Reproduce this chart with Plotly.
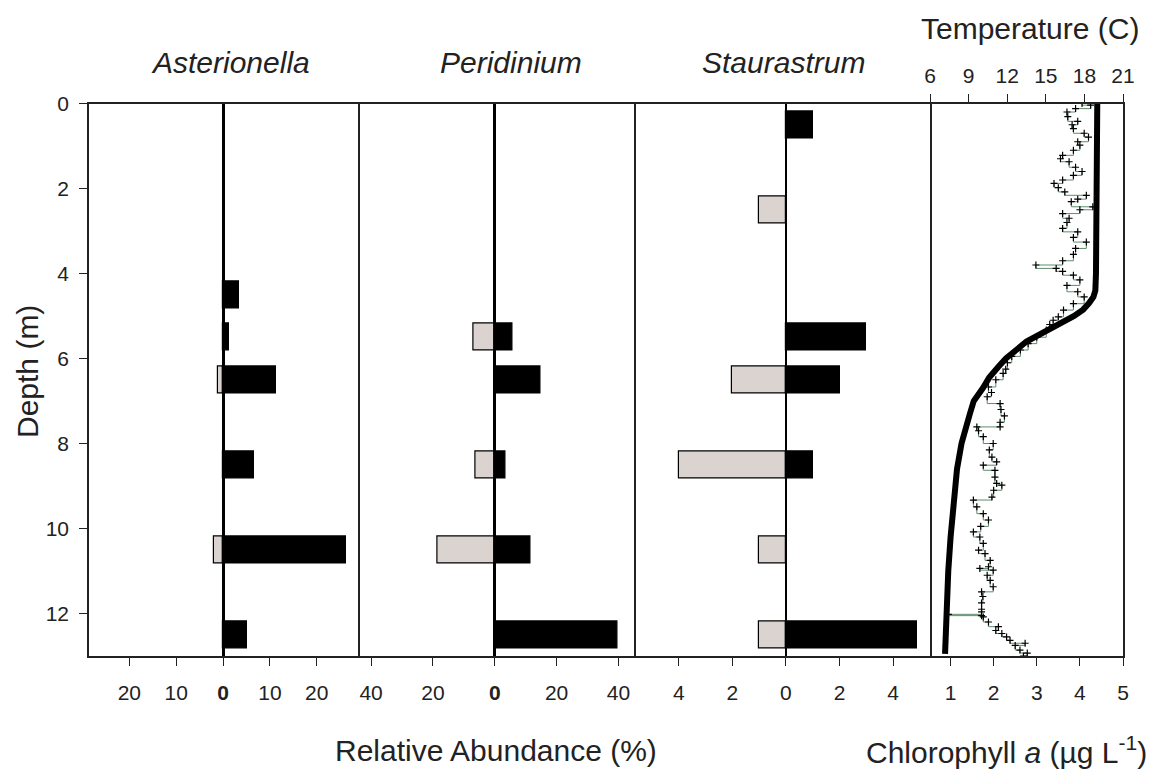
import plotly.graph_objects as go

# ---------------- data ----------------
# Asterionella (relative abundance, %)
ast_black_depth = [4.5, 5.5, 6.5, 8.5, 10.5, 12.5]
ast_black_val = [3.5, 1.2, 11.4, 6.6, 26.2, 5.2]
ast_gray_depth = [6.5, 10.5]
ast_gray_val = [-1.1, -1.9]

# Peridinium
per_black_depth = [5.5, 6.5, 8.5, 10.5, 12.5]
per_black_val = [5.6, 14.8, 3.5, 11.5, 39.7]
per_gray_depth = [5.5, 8.5, 10.5]
per_gray_val = [-6.8, -6.2, -18.6]

# Staurastrum
sta_black_depth = [0.5, 5.5, 6.5, 8.5, 12.5]
sta_black_val = [1.0, 3.0, 2.0, 1.0, 4.9]
sta_gray_depth = [2.5, 6.5, 8.5, 10.5, 12.5]
sta_gray_val = [-1.0, -2.0, -4.0, -1.0, -1.0]

# Temperature profile (C)
temp_depth = [0, 0.5, 1, 1.5, 2, 2.5, 3, 3.5, 4, 4.4, 4.55, 4.7, 4.85, 5.0, 5.15,
              5.3, 5.45, 5.6, 5.8, 6.0, 6.2, 6.45, 6.7, 7.0, 7.3, 7.6, 8.0, 8.6,
              9.4, 10.2, 11.0, 11.8, 12.5, 12.95]
temp_val = [19.0, 19.0, 18.95, 18.95, 18.95, 18.9, 18.9, 18.9, 18.9, 18.85, 18.7,
            18.35, 17.9, 17.2, 16.3, 15.3, 14.3, 13.5, 12.7, 11.9, 11.3, 10.6, 10.1,
            9.4, 9.1, 8.8, 8.45, 8.1, 7.8, 7.6, 7.42, 7.3, 7.22, 7.17]

# Chlorophyll a profile (ug/L)
chl_depth = [0.0, 0.04, 0.12, 0.2, 0.31, 0.42, 0.5, 0.59, 0.7, 0.79, 0.9, 0.98, 1.1,
             1.22, 1.3, 1.37, 1.5, 1.6, 1.69, 1.8, 1.88, 1.98, 2.08, 2.16, 2.25, 2.31,
             2.43, 2.5, 2.59, 2.7, 2.8, 2.94, 3.02, 3.15, 3.26, 3.41, 3.55, 3.7, 3.8,
             3.88, 3.95, 4.04, 4.15, 4.28, 4.43, 4.55, 4.71, 4.86, 5.02, 5.1, 5.2,
             5.33, 5.5, 5.65, 5.8, 5.95, 6.1, 6.25, 6.35, 6.5, 6.67, 6.8, 6.9, 7.06,
             7.2, 7.35, 7.5, 7.61, 7.61, 7.7, 7.84, 8.0, 8.15, 8.32, 8.43, 8.51, 8.63,
             8.79, 8.94, 8.98, 9.1, 9.26, 9.33, 9.49, 9.65, 9.8, 9.95, 10.08, 10.2,
             10.35, 10.51, 10.59, 10.75, 10.9, 10.94, 10.98, 11.1, 11.22, 11.37, 11.49,
             11.6, 11.75, 11.9, 11.96, 12.02, 12.05, 12.08, 12.2, 12.31, 12.4, 12.47,
             12.55, 12.63, 12.7, 12.75, 12.86, 12.93, 13.0]
chl_val = [4.05, 4.25, 3.9, 3.7, 3.72, 3.95, 3.82, 3.85, 4.1, 4.2, 3.95, 4.0, 3.85,
           3.6, 3.55, 3.75, 3.9, 4.05, 3.85, 3.6, 3.4, 3.5, 3.65, 4.15, 3.95, 3.8,
           4.3, 4.0, 3.6, 3.75, 3.7, 3.6, 3.95, 3.85, 4.15, 3.9, 3.85, 3.6, 2.98,
           3.45, 3.6, 3.85, 4.0, 3.7, 3.95, 4.1, 3.85, 3.62, 3.5, 3.38, 3.3,
           3.22, 3.0, 2.8, 2.62, 2.42, 2.32, 2.28, 2.22, 2.05, 1.88, 1.95, 1.85, 2.15,
           2.17, 2.25, 2.15, 2.15, 1.61, 1.65, 1.76, 1.99, 1.9, 1.96, 2.07, 1.76, 2.03,
           2.03, 2.07, 2.19, 2.0, 1.96, 1.53, 1.61, 1.76, 1.88, 1.7, 1.53, 1.68,
           1.76, 1.65, 1.8, 1.92, 1.88, 1.68, 1.99, 1.85, 1.92, 1.99, 1.72,
           1.75, 1.72, 1.72, 1.72, 0.95, 1.72, 1.76, 1.88, 2.11, 2.05, 2.19,
           2.3, 2.38, 2.73, 2.5, 2.61, 2.78, 2.69]

depth_ticks = [0, 2, 4, 6, 8, 10, 12]
ast_ticks = [-20, -10, 0, 10, 20]
ast_ticktext = ["20", "10", "<b>0</b>", "10", "20"]
per_ticks = [-40, -20, 0, 20, 40]
per_ticktext = ["40", "20", "<b>0</b>", "20", "40"]
sta_ticks = [-4, -2, 0, 2, 4]
sta_ticktext = ["4", "2", "0", "2", "4"]
chl_ticks = [1, 2, 3, 4, 5]
temp_ticks = [6, 9, 12, 15, 18, 21]

# ---------------- styling ----------------
# the page body has an 8px default margin; lay out in window pixels
OFF = 8
WIN_W, WIN_H = 1157, 774
W, H = WIN_W - OFF, WIN_H - OFF
FONT = "Liberation Sans, Arial, sans-serif"
GRAY = "#dad3d0"
BAR_W = 0.64
LINE = "#222"

def px(x):
    return (x - OFF) / W

def py(y):
    return 1 - (y - OFF) / H

top, bottom = 103.5, 656
edges = [89, 357.5, 636, 930, 1123]
ydom = [py(bottom), py(top)]

fig = go.Figure()

def add_bars(gd, gv, bd, bv, xa, ya):
    fig.add_trace(go.Bar(y=gd, x=gv, orientation="h", width=BAR_W,
                         marker=dict(color=GRAY, line=dict(color="black", width=1.2)),
                         xaxis=xa, yaxis=ya, showlegend=False))
    fig.add_trace(go.Bar(y=bd, x=bv, orientation="h", width=BAR_W,
                         marker=dict(color="black", line=dict(color="black", width=1.2)),
                         xaxis=xa, yaxis=ya, showlegend=False))

add_bars(ast_gray_depth, ast_gray_val, ast_black_depth, ast_black_val, "x", "y")
add_bars(per_gray_depth, per_gray_val, per_black_depth, per_black_val, "x2", "y2")
add_bars(sta_gray_depth, sta_gray_val, sta_black_depth, sta_black_val, "x3", "y3")

fig.add_trace(go.Scatter(x=chl_val, y=chl_depth, mode="lines+markers",
                         line=dict(color="#5e8c6c", width=1, shape="vh"),
                         marker=dict(symbol="cross-thin", size=5,
                                     line=dict(color="black", width=1.2)),
                         xaxis="x4", yaxis="y4", showlegend=False))
fig.add_trace(go.Scatter(x=temp_val, y=temp_depth, mode="lines",
                         line=dict(color="black", width=6),
                         xaxis="x5", yaxis="y4", showlegend=False))

tickfont = dict(family=FONT, size=21, color=LINE)

def xaxis(i, rng, tv, tt, zw):
    return dict(domain=[px(edges[i]), px(edges[i + 1])], range=rng,
                anchor="y" if i == 0 else f"y{i+1}",
                showline=True, mirror=True, linecolor=LINE, linewidth=1.5,
                ticks="outside", ticklen=8, tickwidth=1.3, tickcolor=LINE,
                tickvals=tv, ticktext=tt, tickfont=tickfont, ticklabelstandoff=9,
                showgrid=False, zeroline=True, zerolinecolor="black", zerolinewidth=zw,
                automargin=False, fixedrange=True)

base_y = dict(domain=ydom, range=[13, 0], linecolor=LINE, linewidth=1.5,
              showgrid=False, zeroline=False, automargin=False, fixedrange=True)

fig.update_layout(
    width=W, height=H, autosize=False,
    margin=dict(l=0, r=0, t=0, b=0),
    paper_bgcolor="white", plot_bgcolor="white",
    barmode="overlay", bargap=0,
    font=dict(family=FONT, color=LINE),
    xaxis=xaxis(0, [-28.6, 28.7], ast_ticks, ast_ticktext, 3),
    xaxis2=xaxis(1, [-44.4, 45.7], per_ticks, per_ticktext, 3),
    xaxis3=xaxis(2, [-5.6, 5.38], sta_ticks, sta_ticktext, 1.5),
    xaxis4=dict(domain=[px(edges[3]), px(edges[4])], range=[0.524, 5.0], anchor="y4",
                showline=True, mirror=False, linecolor=LINE, linewidth=1.5,
                ticks="outside", ticklen=8, tickwidth=1.3, tickcolor=LINE,
                tickvals=chl_ticks, tickfont=tickfont, ticklabelstandoff=9,
                showgrid=False, zeroline=False, automargin=False, fixedrange=True),
    xaxis5=dict(domain=[px(edges[3]), px(edges[4])], range=[6, 21], anchor="y4",
                overlaying="x4", side="top",
                showline=True, linecolor=LINE, linewidth=1.5,
                ticks="outside", ticklen=8, tickwidth=1.3, tickcolor=LINE,
                tickvals=temp_ticks, tickfont=tickfont, ticklabelstandoff=2,
                showgrid=False, zeroline=False, automargin=False, fixedrange=True),
    yaxis=dict(base_y, anchor="x", showline=True, mirror=True,
               ticks="outside", ticklen=8, tickwidth=1.3, tickcolor=LINE,
               tickvals=depth_ticks, tickfont=tickfont, ticklabelstandoff=6),
    yaxis2=dict(base_y, anchor="x2", showline=False, showticklabels=False, ticks=""),
    yaxis3=dict(base_y, anchor="x3", showline=True, mirror=True,
                showticklabels=False, ticks=""),
    yaxis4=dict(base_y, anchor="x4", side="right", showline=True, mirror=False,
                showticklabels=False, ticks=""),
)

TITLE = 30
ann = [
    dict(text="<i>Asterionella</i>", x=230, y=62),
    dict(text="<i>Peridinium</i>", x=511, y=62),
    dict(text="<i>Staurastrum</i>", x=783, y=62),
    dict(text="Temperature (C)", x=1030, y=28),
    dict(text="Relative Abundance (%)", x=496, y=750),
    dict(text="Chlorophyll <i>a</i> (µg L<sup>-1</sup>)", x=1006, y=750),
]
for a in ann:
    fig.add_annotation(text=a["text"], x=px(a["x"]), y=py(a["y"]),
                       xref="paper", yref="paper",
                       showarrow=False, xanchor="center", yanchor="middle",
                       font=dict(family=FONT, size=TITLE, color=LINE))
fig.add_annotation(text="Depth (m)", x=px(28), y=py(372), xref="paper", yref="paper",
                   showarrow=False, textangle=-90, xanchor="center", yanchor="middle",
                   font=dict(family=FONT, size=TITLE, color=LINE))

fig.write_html("out.html")
